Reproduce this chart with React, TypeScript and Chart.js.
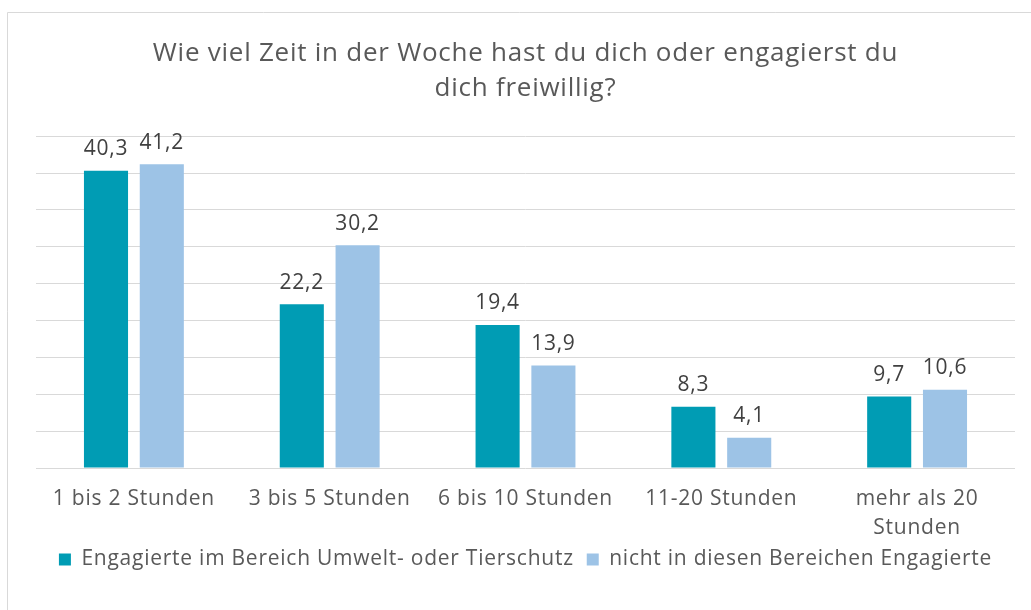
import React, { useEffect, useRef } from "react";
import { Chart, registerables } from "chart.js";

Chart.register(...registerables);

const categories: (string | string[])[] = [
  "1 bis 2 Stunden",
  "3 bis 5 Stunden",
  "6 bis 10 Stunden",
  "11-20 Stunden",
  ["mehr als 20", "Stunden"],
];
const seriesNames = [
  "Engagierte im Bereich Umwelt- oder Tierschutz",
  "nicht in diesen Bereichen Engagierte",
];
const engagedValues = [40.3, 22.2, 19.4, 8.3, 9.7];
const otherValues = [41.2, 30.2, 13.9, 4.1, 10.6];
const titleLines = [
  "Wie viel Zeit in der Woche hast du dich oder engagierst du",
  "dich freiwillig?",
];

const FONT = "'Open Sans', 'Noto Sans', sans-serif";
const TEXT = "#595959";
const SPACING = "0.75px";

const spacingPlugin = {
  id: "spacing",
  beforeUpdate(chart: any) {
    chart.ctx.letterSpacing = SPACING;
  },
  beforeLayout(chart: any) {
    chart.ctx.letterSpacing = SPACING;
  },
  beforeDraw(chart: any) {
    chart.ctx.letterSpacing = SPACING;
  },
};

const borderPlugin = {
  id: "frame",
  beforeDraw(chart: any) {
    const { ctx } = chart;
    ctx.save();
    ctx.fillStyle = "#ffffff";
    ctx.fillRect(0, 0, chart.width, chart.height);
    ctx.strokeStyle = "#D9D9D9";
    ctx.lineWidth = 1;
    ctx.beginPath();
    ctx.moveTo(7.5, chart.height + 2);
    ctx.lineTo(7.5, 12.5);
    ctx.lineTo(chart.width + 2, 12.5);
    ctx.stroke();
    ctx.restore();
  },
};

const labelPlugin = {
  id: "valueLabels",
  afterDatasetsDraw(chart: any) {
    const { ctx } = chart;
    ctx.save();
    ctx.font = `21px ${FONT}`;
    ctx.fillStyle = "#404040";
    ctx.textAlign = "center";
    ctx.textBaseline = "bottom";
    chart.data.datasets.forEach((ds: any, i: number) => {
      const meta = chart.getDatasetMeta(i);
      meta.data.forEach((bar: any, j: number) => {
        const v = ds.data[j] as number;
        ctx.fillText(v.toFixed(1).replace(".", ","), bar.x, bar.y - 11);
      });
    });
    ctx.restore();
  },
};

export default function App() {
  const ref = useRef<HTMLCanvasElement | null>(null);
  useEffect(() => {
    if (!ref.current) return;
    const chart = new Chart(ref.current, {
      type: "bar",
      data: {
        labels: categories,
        datasets: [
          {
            label: seriesNames[0],
            data: engagedValues,
            backgroundColor: "#009CB4",
            categoryPercentage: 0.57,
            barPercentage: 0.79,
          },
          {
            label: seriesNames[1],
            data: otherValues,
            backgroundColor: "#9DC3E6",
            categoryPercentage: 0.57,
            barPercentage: 0.79,
          },
        ],
      },
      options: {
        animation: false,
        responsive: false,
        maintainAspectRatio: false,
        layout: { padding: { top: 0, left: 36, right: 16, bottom: 30 } },
        plugins: {
          title: {
            display: true,
            text: titleLines,
            color: TEXT,
            font: { family: FONT, size: 26, weight: "normal", lineHeight: 1.35 },
            padding: { top: 36, bottom: 30 },
          },
          legend: {
            position: "bottom",
            labels: {
              color: TEXT,
              font: { family: FONT, size: 21 },
              boxWidth: 12,
              boxHeight: 12,
              padding: 13,
            },
          },
          tooltip: { enabled: false },
        },
        scales: {
          x: {
            grid: { display: false, drawTicks: false },
            border: { display: false },
            ticks: {
              color: TEXT,
              font: { family: FONT, size: 21, lineHeight: 1.35 },
              padding: 17,
              maxRotation: 0,
            },
            afterFit(scale: any) {
              scale.height = 68;
            },
          },
          y: {
            min: 0,
            max: 45,
            ticks: { display: false, stepSize: 5 },
            grid: { color: "#D9D9D9", lineWidth: 1, drawTicks: false },
            border: { display: false },
            afterFit(scale: any) {
              scale.width = 0;
            },
          },
        },
      },
      plugins: [spacingPlugin, borderPlugin, labelPlugin],
    });
    return () => chart.destroy();
  }, []);
  return (
    <div style={{ position: "absolute", left: 0, top: 0, width: 1031, height: 610, background: "#fff" }}>
      <canvas ref={ref} width={1031} height={610} style={{ display: "block" }} />
    </div>
  );
}
